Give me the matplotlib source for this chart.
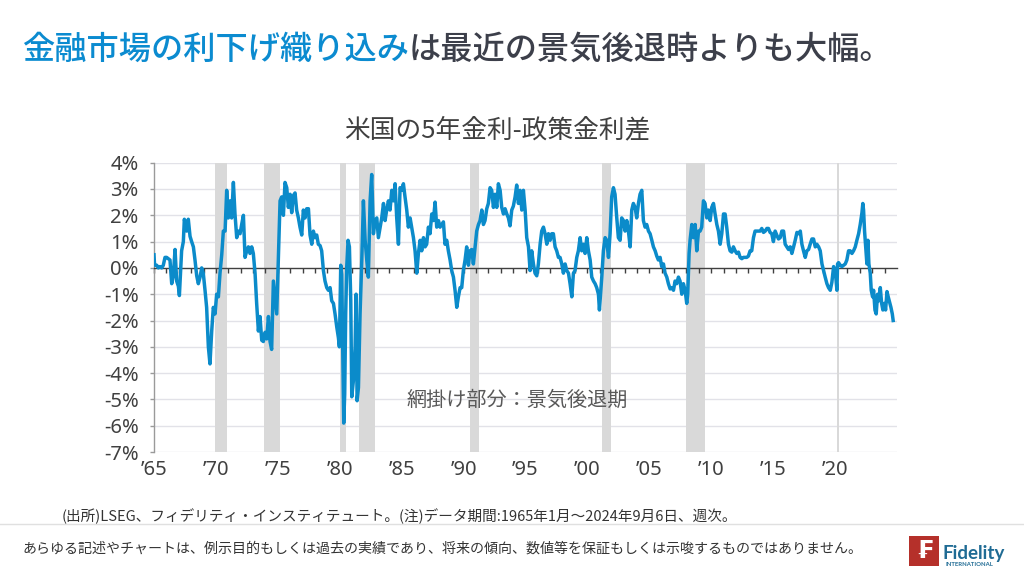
import matplotlib
matplotlib.use("Agg")
import matplotlib.pyplot as plt
from matplotlib.patches import Rectangle
from matplotlib.lines import Line2D

plt.rcParams['font.family'] = ['Noto Sans CJK JP', 'DejaVu Sans']

# ---------------- data ----------------
years = [
    1965.00, 1965.04, 1965.08, 1965.22, 1965.35, 1965.48, 1965.62, 1965.75, 1965.89, 1966.02,
    1966.16, 1966.29, 1966.43, 1966.56, 1966.70, 1966.83, 1966.97, 1967.05, 1967.23, 1967.37,
    1967.45, 1967.64, 1967.77, 1967.91, 1968.04, 1968.18, 1968.31, 1968.45, 1968.58, 1968.72,
    1968.85, 1968.98, 1969.12, 1969.25, 1969.39, 1969.52, 1969.66, 1969.79, 1969.93, 1970.06,
    1970.20, 1970.33, 1970.47, 1970.60, 1970.74, 1970.87, 1971.00, 1971.14, 1971.27, 1971.41,
    1971.54, 1971.68, 1971.81, 1971.95, 1972.08, 1972.22, 1972.35, 1972.49, 1972.62, 1972.75,
    1972.89, 1973.02, 1973.16, 1973.29, 1973.43, 1973.56, 1973.70, 1973.83, 1973.97, 1974.10,
    1974.24, 1974.37, 1974.50, 1974.64, 1974.77, 1974.91, 1975.04, 1975.18, 1975.31, 1975.45,
    1975.58, 1975.72, 1975.85, 1975.99, 1976.12, 1976.25, 1976.39, 1976.52, 1976.66, 1976.79,
    1976.93, 1977.06, 1977.20, 1977.33, 1977.47, 1977.60, 1977.74, 1977.87, 1978.00, 1978.14,
    1978.27, 1978.41, 1978.54, 1978.68, 1978.81, 1978.95, 1979.08, 1979.22, 1979.35, 1979.49,
    1979.62, 1979.76, 1979.89, 1979.97, 1980.08, 1980.16, 1980.24, 1980.32, 1980.40, 1980.48,
    1980.56, 1980.67, 1980.78, 1980.89, 1980.97, 1981.10, 1981.24, 1981.32, 1981.40, 1981.51,
    1981.64, 1981.78, 1981.91, 1982.05, 1982.18, 1982.31, 1982.45, 1982.58, 1982.72, 1982.85,
    1982.99, 1983.12, 1983.26, 1983.39, 1983.53, 1983.66, 1983.79, 1983.93, 1984.06, 1984.20,
    1984.33, 1984.47, 1984.60, 1984.74, 1984.87, 1985.01, 1985.14, 1985.27, 1985.41, 1985.54,
    1985.68, 1985.81, 1985.95, 1986.08, 1986.22, 1986.35, 1986.49, 1986.62, 1986.76, 1986.89,
    1987.02, 1987.16, 1987.29, 1987.43, 1987.56, 1987.70, 1987.83, 1987.97, 1988.10, 1988.23,
    1988.37, 1988.50, 1988.64, 1988.77, 1988.91, 1989.04, 1989.18, 1989.31, 1989.45, 1989.58,
    1989.72, 1989.85, 1989.98, 1990.12, 1990.25, 1990.39, 1990.52, 1990.66, 1990.79, 1990.93,
    1991.06, 1991.20, 1991.33, 1991.47, 1991.60, 1991.73, 1991.87, 1992.00, 1992.14, 1992.27,
    1992.41, 1992.54, 1992.68, 1992.81, 1992.95, 1993.08, 1993.22, 1993.35, 1993.49, 1993.62,
    1993.75, 1993.89, 1994.02, 1994.16, 1994.29, 1994.43, 1994.56, 1994.70, 1994.83, 1994.97,
    1995.10, 1995.24, 1995.37, 1995.50, 1995.64, 1995.77, 1995.91, 1996.04, 1996.18, 1996.31,
    1996.45, 1996.58, 1996.72, 1996.85, 1996.99, 1997.12, 1997.25, 1997.39, 1997.52, 1997.66,
    1997.79, 1997.93, 1998.06, 1998.20, 1998.33, 1998.47, 1998.60, 1998.74, 1998.87, 1999.00,
    1999.14, 1999.27, 1999.41, 1999.54, 1999.68, 1999.81, 1999.95, 2000.08, 2000.22, 2000.35,
    2000.49, 2000.62, 2000.75, 2000.89, 2000.97, 2001.08, 2001.16, 2001.29, 2001.43, 2001.56,
    2001.70, 2001.83, 2001.96, 2002.10, 2002.23, 2002.37, 2002.50, 2002.64, 2002.77, 2002.91,
    2003.04, 2003.18, 2003.31, 2003.45, 2003.58, 2003.71, 2003.85, 2003.98, 2004.12, 2004.25,
    2004.39, 2004.52, 2004.66, 2004.79, 2004.93, 2005.06, 2005.20, 2005.33, 2005.47, 2005.60,
    2005.73, 2005.87, 2006.00, 2006.14, 2006.27, 2006.41, 2006.54, 2006.68, 2006.81, 2006.95,
    2007.08, 2007.21, 2007.35, 2007.48, 2007.62, 2007.75, 2007.89, 2008.02, 2008.10, 2008.21,
    2008.29, 2008.43, 2008.56, 2008.70, 2008.83, 2008.97, 2009.10, 2009.23, 2009.37, 2009.50,
    2009.64, 2009.77, 2009.91, 2010.04, 2010.18, 2010.31, 2010.45, 2010.58, 2010.72, 2010.85,
    2010.99, 2011.12, 2011.25, 2011.39, 2011.52, 2011.66, 2011.79, 2011.93, 2012.06, 2012.20,
    2012.33, 2012.47, 2012.60, 2012.73, 2012.87, 2013.00, 2013.14, 2013.27, 2013.41, 2013.54,
    2013.68, 2013.82, 2013.95, 2014.08, 2014.22, 2014.36, 2014.49, 2014.62, 2014.75, 2014.89,
    2015.02, 2015.16, 2015.29, 2015.43, 2015.57, 2015.70, 2015.84, 2015.97, 2016.11, 2016.24,
    2016.38, 2016.51, 2016.65, 2016.78, 2016.92, 2017.05, 2017.19, 2017.32, 2017.45, 2017.59,
    2017.72, 2017.86, 2017.99, 2018.13, 2018.26, 2018.40, 2018.53, 2018.67, 2018.80, 2018.94,
    2019.07, 2019.20, 2019.34, 2019.47, 2019.61, 2019.74, 2019.88, 2020.01, 2020.15, 2020.20,
    2020.28, 2020.42, 2020.55, 2020.69, 2020.82, 2020.95, 2021.09, 2021.22, 2021.36, 2021.49,
    2021.63, 2021.76, 2021.90, 2022.03, 2022.17, 2022.24, 2022.30, 2022.38, 2022.49, 2022.57,
    2022.65, 2022.73, 2022.84, 2022.92, 2023.03, 2023.11, 2023.22, 2023.32, 2023.43, 2023.54,
    2023.65, 2023.76, 2023.86, 2023.97, 2024.08, 2024.19, 2024.29, 2024.40, 2024.51, 2024.62,
    2024.69,
]

spread = [
    0.50, 0.15, 0.10, 0.10, 0.00, 0.05, 0.00, 0.10, 0.40, 0.40,
    0.35, 0.30, -0.60, -0.30, 0.70, -0.50, -0.70, -1.05, 0.65, 1.00,
    1.85, 1.40, 1.85, 1.20, 1.00, 0.80, 0.30, -0.30, -0.60, -0.35,
    0.00, -0.20, -0.85, -1.50, -3.00, -3.65, -2.40, -1.50, -1.75, -1.00,
    -1.10, -0.20, 0.50, 1.40, 1.40, 2.95, 1.90, 2.55, 1.90, 3.25,
    2.05, 1.15, 1.40, 1.30, 1.65, 2.00, 0.40, 0.65, 0.80, 0.55,
    0.80, 0.55, -0.20, -1.35, -2.40, -1.85, -2.75, -2.80, -2.45, -2.70,
    -1.85, -2.80, -3.10, -0.50, -1.10, -1.75, 0.30, 2.55, 2.70, 2.00,
    3.25, 3.05, 2.30, 2.80, 2.10, 2.75, 2.85, 2.20, 1.90, 1.55,
    1.25, 2.20, 1.90, 2.25, 2.25, 1.25, 0.90, 1.40, 1.15, 1.25,
    0.90, 0.85, 0.65, -0.10, -0.50, -0.75, -0.85, -0.75, -1.25, -1.35,
    -1.75, -2.25, -2.65, -3.00, 0.10, -0.25, -3.00, -5.90, -4.80, -1.75,
    0.00, 1.05, 0.80, -1.25, -4.90, -4.30, -3.00, -1.00, -5.05, -4.55,
    -1.75, 0.30, 2.55, 1.05, 0.30, -0.35, 2.55, 3.55, 1.30, 1.80,
    1.90, 1.15, 1.55, 1.90, 2.45, 1.80, 2.20, 2.55, 2.20, 2.95,
    2.55, 3.20, 1.90, 0.90, 3.05, 2.95, 3.20, 2.70, 2.20, 1.55,
    1.90, 1.55, 1.15, 0.65, -0.20, 0.55, 1.05, 0.65, 1.15, 0.80,
    0.90, 1.55, 1.30, 2.05, 1.80, 2.50, 1.55, 1.80, 1.55, 1.65,
    1.75, 0.90, 1.05, 0.65, 0.30, -0.10, -0.35, -0.85, -1.50, -1.10,
    -0.75, -0.75, -0.10, 0.30, 0.80, 0.10, 0.65, 0.70, 0.15, 0.80,
    1.40, 1.65, 1.80, 2.20, 1.65, 1.80, 2.25, 2.45, 3.05, 2.95,
    2.30, 2.80, 2.30, 3.20, 2.95, 2.30, 2.05, 2.25, 2.05, 1.90,
    1.60, 2.20, 2.35, 2.70, 3.15, 2.45, 2.95, 2.20, 2.95, 2.20,
    1.15, 0.80, -0.10, 0.65, 0.15, -0.20, -0.30, 0.15, 0.90, 1.40,
    1.55, 1.30, 0.90, 1.30, 1.05, 1.30, 1.30, 0.80, 0.65, 0.40,
    0.40, 0.15, -0.20, 0.15, -0.10, -0.20, -0.60, -1.10, -0.20, -0.10,
    0.40, 0.65, 1.15, 0.65, 0.90, 0.55, 1.15, 0.65, 0.30, -0.35,
    -0.50, -0.60, -0.75, -1.00, -1.60, -0.85, -0.35, 0.65, 1.15, 1.05,
    0.40, 1.30, 2.70, 3.05, 2.80, 1.90, 1.15, 1.05, 1.90, 1.80,
    1.40, 1.80, 1.40, 0.80, 2.20, 2.45, 2.30, 1.90, 2.45, 2.80,
    2.95, 1.80, 1.55, 1.65, 1.40, 1.30, 1.05, 0.80, 0.65, 0.45,
    0.30, 0.40, 0.05, 0.15, -0.20, -0.35, -0.60, -0.80, -0.75, -0.85,
    -0.50, -0.60, -0.35, -0.50, -1.00, -0.60, -0.85, -1.35, -1.00, 0.55,
    1.05, 1.65, 1.15, 1.65, 0.65, 1.40, 1.40, 1.55, 2.55, 2.45,
    1.90, 2.20, 1.80, 2.30, 2.45, 2.05, 1.65, 1.40, 0.90, 1.30,
    2.05, 2.05, 1.55, 0.90, 0.65, 0.60, 0.80, 0.65, 0.55, 0.60,
    0.40, 0.35, 0.40, 0.40, 0.40, 0.45, 0.65, 0.65, 1.15, 1.40,
    1.40, 1.40, 1.40, 1.50, 1.35, 1.40, 1.50, 1.50, 1.35, 1.30,
    1.00, 1.40, 1.25, 1.10, 1.15, 1.40, 1.40, 0.90, 0.80, 0.70,
    0.80, 0.55, 0.80, 1.05, 1.35, 1.30, 1.40, 0.90, 0.65, 0.40,
    0.65, 0.70, 0.90, 1.10, 1.10, 0.80, 0.90, 0.80, 0.65, 0.15,
    -0.10, -0.35, -0.60, -0.75, -0.85, -0.55, 0.05, -0.10, -0.85, 0.15,
    0.20, 0.10, 0.05, 0.10, 0.15, 0.30, 0.65, 0.65, 0.55, 0.65,
    0.80, 1.05, 1.30, 1.65, 2.10, 2.45, 2.20, 1.40, 0.65, 0.15,
    1.05, 0.15, -0.20, -0.85, -1.10, -0.85, -1.60, -1.75, -1.00, -1.25,
    -0.75, -1.35, -1.60, -1.35, -1.60, -0.90, -1.10, -1.30, -1.50, -1.75,
    -2.00,
]

# NBER recessions (decimal years)
rec_start = [1969.92, 1973.87, 1980.04, 1981.54, 1990.54, 2001.21, 2007.96, 2020.12]
rec_end = [1970.87, 1975.21, 1980.54, 1982.87, 1991.21, 2001.87, 2009.46, 2020.29]

ytick_vals = [4, 3, 2, 1, 0, -1, -2, -3, -4, -5, -6, -7]
ytick_labels = [f"{v}%" for v in ytick_vals]
xtick_years = [1965, 1970, 1975, 1980, 1985, 1990, 1995, 2000, 2005, 2010, 2015, 2020]
xtick_labels = ["\u201965", "\u201970", "\u201975", "\u201980", "\u201985", "\u201990",
                "\u201995", "\u201900", "\u201905", "\u201910", "\u201915", "\u201920"]
year_ticks = list(range(1965, 2025))

title_blue = "金融市場の利下げ織り込み"
title_rest = "は最近の景気後退時よりも大幅。"
chart_title = "米国の5年金利-政策金利差"
note_shade = "網掛け部分：景気後退期"
source_note = "(出所)LSEG、フィデリティ・インスティテュート。(注)データ期間:1965年1月～2024年9月6日、週次。"
disclaimer = "あらゆる記述やチャートは、例示目的もしくは過去の実績であり、将来の傾向、数値等を保証もしくは示唆するものではありません。"

# ---------------- figure ----------------
W, H = 1024, 576
fig = plt.figure(figsize=(W / 100, H / 100), dpi=100)
fig.patch.set_facecolor("white")

ax = fig.add_axes([154 / W, 1 - 452 / H, (897 - 154) / W, (452 - 162.7) / H])
ax.set_xlim(1965, 2025)
ax.set_ylim(-7, 4)

LINE_BLUE = "#0b8bca"
TXT = "#404040"

# gridlines
ax.set_yticks(ytick_vals)
ax.set_yticklabels(ytick_labels, family=["Noto Sans", "DejaVu Sans"])
for v in ytick_vals:
    if v != 0:
        ax.axhline(v, color="#e2e2e8", lw=1.0, zorder=0.5)

# recession shading
for s, e in zip(rec_start, rec_end):
    ax.axvspan(s, e, color="#d9d9d9", lw=0, zorder=1)

# spines
for sp in ["top", "right"]:
    ax.spines[sp].set_visible(False)
ax.spines["left"].set_color("#9a9a9a")
ax.spines["left"].set_linewidth(1.0)
ax.spines["left"].set_zorder(3)
ax.spines["bottom"].set_position(("data", 0))
ax.spines["bottom"].set_color(TXT)
ax.spines["bottom"].set_linewidth(1.0)
ax.spines["bottom"].set_zorder(3)

ax.tick_params(axis="y", length=3, width=1, color="#9a9a9a", pad=8,
               labelsize=14.5, labelcolor=TXT)
ax.set_xticks(year_ticks)
ax.tick_params(axis="x", length=3.5, width=1, color=TXT, direction="out",
               labelbottom=False)

# x labels on a secondary axis at the bottom
sec = ax.secondary_xaxis(0)
sec.set_xticks(xtick_years)
sec.set_xticklabels(xtick_labels, family=["Noto Sans", "DejaVu Sans"])
sec.tick_params(length=0, pad=6, labelsize=14.5, labelcolor=TXT)
sec.spines["bottom"].set_visible(False)

# data line
ax.plot(years, spread, color=LINE_BLUE, lw=2.5, zorder=4, solid_joinstyle="round")

# annotation
ax.text(1985.4, -5.05, note_shade, fontsize=14.5, color="#595959",
        ha="left", va="center", zorder=5)

# chart title
fig.text(497 / W, 1 - 130 / H, chart_title, ha="center", va="center",
         fontsize=18.5, color=TXT)

# main title (two colours)
t1 = fig.text(22 / W, 1 - 50 / H, title_blue, ha="left", va="center",
              fontsize=23.2, color="#0b8bd0", fontweight="medium")
ax.annotate(title_rest, xy=(1, 0.5), xycoords=t1, ha="left", va="center",
            fontsize=23.2, color="#3c3f4a", fontweight="medium",
            annotation_clip=False)

# footnote
fig.text(62 / W, 1 - 516 / H, source_note, ha="left", va="center",
         fontsize=10.5, color="#333333")

# separator line
fig.add_artist(Line2D([0, 1], [1 - 524 / H, 1 - 524 / H], transform=fig.transFigure,
                      color="#e0e0e0", lw=1.0))

# disclaimer
fig.text(22 / W, 1 - 549 / H, disclaimer, ha="left", va="center",
         fontsize=10.1, color="#333333")

# Fidelity logo
fig.add_artist(Rectangle((909 / W, 1 - 566 / H), 30 / W, 30 / H,
                         transform=fig.transFigure, color="#b5302a", lw=0))
fig.text(924 / W, 1 - 551 / H, "\u20a3", ha="center", va="center", fontsize=17,
         fontweight="bold", color="white", family="DejaVu Sans")
fig.text(943 / W, 1 - 553 / H, "Fidelity", ha="left", va="center", fontsize=13.5,
         fontweight="bold", color="#1f6b94", family="Lato")
fig.text(946 / W, 1 - 564.5 / H, "INTERNATIONAL", ha="left", va="center", fontsize=4.3,
         fontweight="bold", color="#1f6b94", family="Lato")

fig.savefig("out.png", dpi=100, facecolor="white")
